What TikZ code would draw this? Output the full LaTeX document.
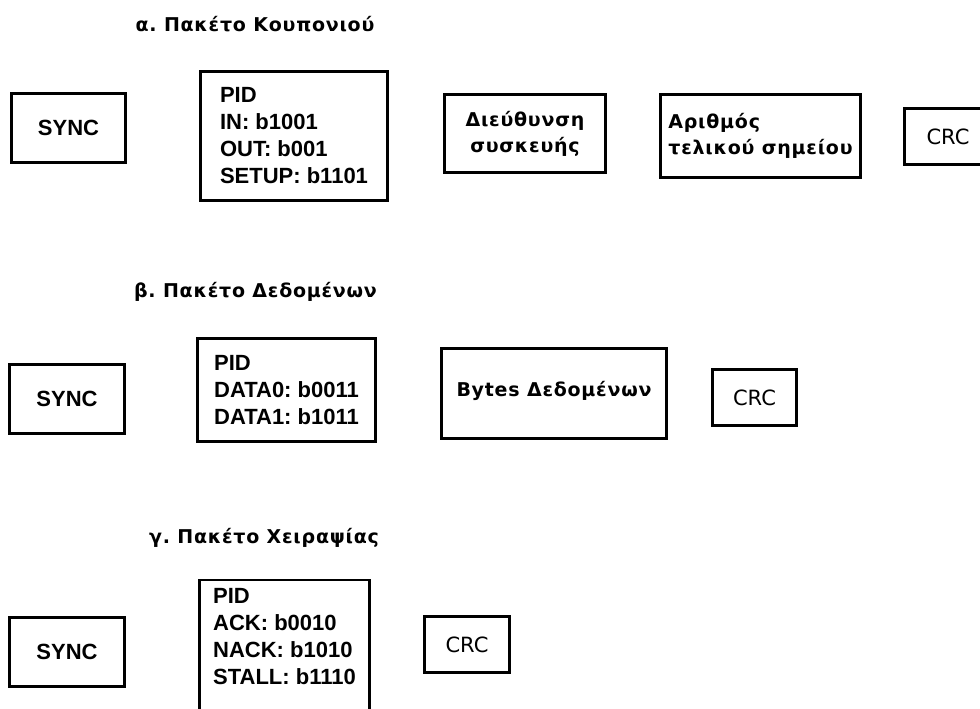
\documentclass[tikz,border=0pt]{standalone}
\usepackage{fontspec}
\setmainfont{Liberation Sans}
\newfontfamily\grk[LetterSpace=4]{DejaVu Sans}
\newfontfamily\crcfont{DejaVu Sans}
\frenchspacing

\begin{document}
\begin{tikzpicture}[x=1pt, y=-1pt,
  field/.style={rectangle, draw=black, line width=2.8pt, inner sep=0pt, align=left, font=\fontsize{22}{27}\selectfont\bfseries},
  greekfield/.style={field, font=\grk\bfseries\fontsize{19}{26}\selectfont},
  crcfield/.style={field, font=\crcfont\fontsize{21}{27}\selectfont},
  heading/.style={font=\grk\bfseries\fontsize{19}{22}\selectfont}
]

\clip (0,0) rectangle (980,709);
\fill[white] (0,0) rectangle (980,709);

% Token packet
\node (tokentitle) [heading] at (255,24) {α. Πακέτο Κουπονιού};
\node (tokensync) [field, minimum width=114pt, minimum height=69pt] at (68.5,128) {SYNC};
\node (tokenpid) [field, minimum width=187pt, minimum height=129pt] at (294,136) {PID\\IN: b1001\\OUT: b001\\SETUP: b1101};
\node (tokenaddr) [greekfield, align=center, minimum width=161pt, minimum height=78pt] at (525,133.5) {Διεύθυνση\\συσκευής};
\node (tokenendp) [greekfield, minimum width=200pt, minimum height=83pt] at (760.5,136) {Αριθμός\\τελικού σημείου};
\node (tokencrc) [crcfield, minimum width=87pt, minimum height=56pt] at (948,136.5) {CRC};

% Data packet
\node (datatitle) [heading] at (255.5,292) {β. Πακέτο Δεδομένων};
\node (datasync) [field, minimum width=115pt, minimum height=69pt] at (67,399) {SYNC};
\node (datapid) [field, minimum width=178pt, minimum height=103pt] at (286.5,390) {PID\\DATA0: b0011\\DATA1: b1011};
\node (databytes) [greekfield, minimum width=225pt, minimum height=90pt, text depth=10pt] at (554,393.5) {Bytes Δεδομένων};
\node (datacrc) [crcfield, minimum width=84pt, minimum height=56pt] at (754.5,397.5) {CRC};

% Handshake packet
\node (handtitle) [heading] at (264,538) {γ. Πακέτο Χειραψίας};
\node (handsync) [field, minimum width=115pt, minimum height=69pt] at (67,652) {SYNC};
\node (handpid) [field, anchor=north, minimum width=170pt, inner ysep=8pt, text depth=70pt] at (284.5,578.5) {PID\\ACK: b0010\\NACK: b1010\\STALL: b1110};
\node (handcrc) [crcfield, minimum width=85pt, minimum height=56pt] at (467,644.5) {CRC};

\end{tikzpicture}
\end{document}
